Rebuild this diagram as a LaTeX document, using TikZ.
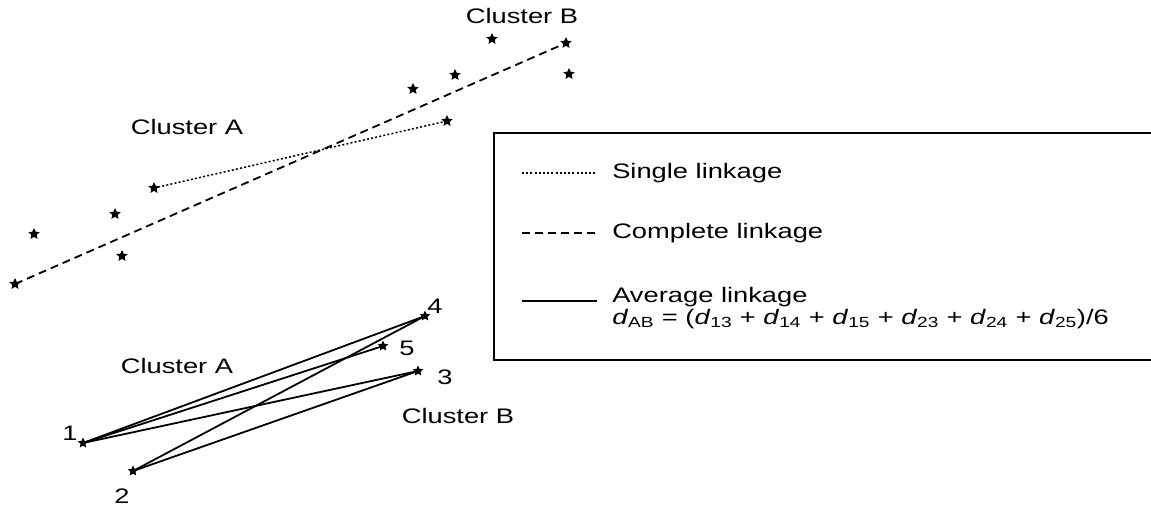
\documentclass[tikz,border=0pt]{standalone}
\usepackage{fontspec}
\setmainfont{Liberation Sans}
\usetikzlibrary{shapes.geometric}

\begin{document}
\begin{tikzpicture}[
  x=1pt, y=-1pt,
  pt/.style={star, star points=5, star point ratio=2.1, fill=black,
             inner sep=0pt, minimum size=12pt},
  lbl/.style={font=\fontsize{21}{24}\selectfont, xscale=1.3, inner sep=0pt},
  single/.style={line width=1.5pt, dash pattern=on 2pt off 2.2pt},
  complete/.style={line width=1.8pt, dash pattern=on 8pt off 5pt},
  average/.style={line width=1.8pt}
]
\useasboundingbox (0,0) rectangle (1151,506);

% upper panel: single and complete linkage
\node[lbl] (topB) at (522,16) {Cluster B};
\node[lbl] (topA) at (187,127) {Cluster A};
\node[pt] (b1) at (492,39) {};
\node[pt] (b2) at (566,43) {};
\node[pt] (b3) at (569,74) {};
\node[pt] (b4) at (455,75) {};
\node[pt] (b5) at (413,89) {};
\node[pt] (b6) at (447,121) {};
\node[pt] (a1) at (154,188) {};
\node[pt] (a2) at (115,214) {};
\node[pt] (a3) at (34,234) {};
\node[pt] (a4) at (122,256) {};
\node[pt] (a5) at (15,284) {};
\draw[single] (a1.center) -- (b6.center);
\draw[complete] (a5.center) -- (b2.center);

% lower panel: average linkage
\node[lbl] (lowA) at (177,366) {Cluster A};
\node[lbl] (lowB) at (458,416) {Cluster B};
\node[pt, minimum size=11pt] (p1) at (83,443) {};
\node[pt, minimum size=11pt] (p2) at (133,471) {};
\node[pt, minimum size=11pt] (p3) at (418,371) {};
\node[pt, minimum size=11pt] (p4) at (425,316) {};
\node[pt, minimum size=11pt] (p5) at (383,346) {};
\node[lbl] (n1) at (70,433) {1};
\node[lbl] (n2) at (122,496) {2};
\node[lbl] (n3) at (445,377) {3};
\node[lbl] (n4) at (435,306) {4};
\node[lbl] (n5) at (407,348) {5};
\draw[average] (p1.center) -- (p4.center);
\draw[average] (p1.center) -- (p5.center);
\draw[average] (p1.center) -- (p3.center);
\draw[average] (p2.center) -- (p4.center);
\draw[average] (p2.center) -- (p3.center);

% legend
\coordinate (boxtr) at (1151,133);
\coordinate (boxbl) at (494,360);
\coordinate (boxbr) at (1151,360);
\draw[line width=2pt] (boxtr) -| (boxbl) -- (boxbr);
\coordinate (s0) at (522,173);  \coordinate (s1) at (597,173);
\coordinate (c0) at (522,233);  \coordinate (c1) at (597,233);
\coordinate (v0) at (522,301);  \coordinate (v1) at (597,301);
\draw[single] (s0) -- (s1);
\draw[complete] (c0) -- (c1);
\draw[average] (v0) -- (v1);
\node[lbl, anchor=west] (sgl) at (612,173) {Single linkage};
\node[lbl, anchor=west] (cpl) at (612,233) {Complete linkage};
\node[lbl, anchor=west] (avg) at (612,297) {Average linkage};
\node[lbl, anchor=west] (fml) at (612,319)
  {\textit{d}\textsubscript{AB} = (\textit{d}\textsubscript{13} + \textit{d}\textsubscript{14} + \textit{d}\textsubscript{15} + \textit{d}\textsubscript{23} + \textit{d}\textsubscript{24} + \textit{d}\textsubscript{25})/6};
\end{tikzpicture}
\end{document}
